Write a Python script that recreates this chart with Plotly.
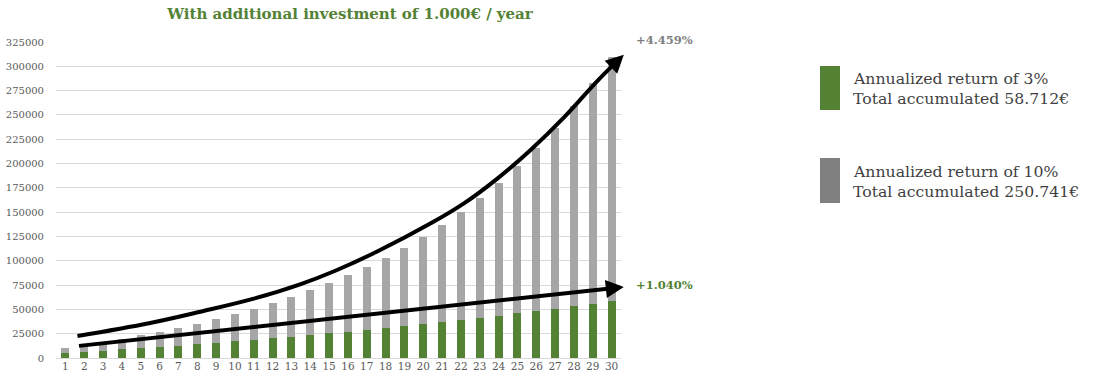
import plotly.graph_objects as go

years = list(range(1, 31))
return_3pct = [5150, 6335, 7554, 8811, 10105, 11439, 12812, 14226, 15683, 17183,
               18729, 20321, 21960, 23649, 25389, 27180, 29026, 30927, 32884, 34901,
               36978, 39117, 41321, 43590, 45928, 48336, 50816, 53370, 56002, 58712]
return_10pct = [5500, 7150, 8965, 10962, 13158, 15573, 18231, 21154, 24369, 27906,
                31797, 36076, 40784, 45962, 51659, 57925, 64817, 72399, 80739, 89912,
                100004, 111104, 123315, 136746, 151521, 167773, 185650, 205315, 226946, 250741]

# trend arrows (x in years, y in euros)
upper_arrow_x = [1.64, 5.5, 8.17, 11.0, 13.5, 15.3, 17.5, 20.4, 22.16, 23.9, 25.7, 27.5, 29.2, 30.2]
upper_arrow_y = [22600, 36000, 47600, 61000, 76000, 89500, 109000, 138500, 159000, 184000, 214000, 248000, 284000, 303500]
upper_tip = (30.65, 312000)
lower_start = (1.64, 12300)
lower_tip = (30.65, 73000)

GREEN = "#548235"
GRAY_BAR = "#A6A6A6"
GRAY_LEG = "#808080"
SERIF = "DejaVu Serif"

fig = go.Figure()
fig.add_trace(go.Bar(x=years, y=return_3pct, marker=dict(color=GREEN, line=dict(width=0)),
                     name="3%", hoverinfo="skip"))
fig.add_trace(go.Bar(x=years, y=return_10pct, marker=dict(color=GRAY_BAR, line=dict(width=0)),
                     name="10%", hoverinfo="skip"))
fig.add_trace(go.Scatter(x=upper_arrow_x, y=upper_arrow_y, mode="lines",
                         line=dict(color="black", width=4, shape="spline", smoothing=1.1),
                         cliponaxis=False, hoverinfo="skip"))

annotations = [
    dict(x=upper_tip[0], y=upper_tip[1], ax=upper_arrow_x[-1], ay=upper_arrow_y[-1],
         xref="x", yref="y", axref="x", ayref="y", text="", showarrow=True,
         arrowhead=2, arrowsize=0.9, arrowwidth=4, arrowcolor="black"),
    dict(x=lower_tip[0], y=lower_tip[1], ax=lower_start[0], ay=lower_start[1],
         xref="x", yref="y", axref="x", ayref="y", text="", showarrow=True,
         arrowhead=2, arrowsize=0.9, arrowwidth=4, arrowcolor="black"),
]

PLOT_TOP, PLOT_BOT, PLOT_L, PLOT_R = 42, 358, 56, 621
def px_to_paper_y(py):
    return (PLOT_BOT - py) / (PLOT_BOT - PLOT_TOP)
def px_to_paper_x(px):
    return (px - PLOT_L) / (PLOT_R - PLOT_L)

annotations += [
    dict(x=px_to_paper_x(634), y=px_to_paper_y(40), xref="paper", yref="paper",
         xanchor="left", yanchor="middle", text="<b>+4.459%</b>", showarrow=False,
         font=dict(family=SERIF, size=11.5, color=GRAY_LEG)),
    dict(x=px_to_paper_x(634), y=px_to_paper_y(285), xref="paper", yref="paper",
         xanchor="left", yanchor="middle", text="<b>+1.040%</b>", showarrow=False,
         font=dict(family=SERIF, size=11.5, color=GREEN)),
]

legend_lines = [
    ("Annualized return of 3%", 78),
    ("Total accumulated 58.712€", 99),
    ("Annualized return of 10%", 171),
    ("Total accumulated 250.741€", 191),
]
for txt, py in legend_lines:
    annotations.append(dict(x=px_to_paper_x(851), y=px_to_paper_y(py), xref="paper", yref="paper",
                            xanchor="left", yanchor="middle", text=txt, showarrow=False,
                            font=dict(family=SERIF, size=15.7, color="#3F3F3F")))

shapes = [
    dict(type="rect", xref="paper", yref="paper",
         x0=px_to_paper_x(820), x1=px_to_paper_x(840),
         y0=px_to_paper_y(110), y1=px_to_paper_y(66),
         fillcolor=GREEN, line=dict(width=0)),
    dict(type="rect", xref="paper", yref="paper",
         x0=px_to_paper_x(820), x1=px_to_paper_x(840),
         y0=px_to_paper_y(203), y1=px_to_paper_y(158),
         fillcolor=GRAY_LEG, line=dict(width=0)),
]

fig.update_layout(
    width=1096, height=386,
    margin=dict(l=PLOT_L, r=1096 - PLOT_R, t=PLOT_TOP, b=386 - PLOT_BOT, autoexpand=False),
    paper_bgcolor="white", plot_bgcolor="white",
    barmode="stack", bargap=0.58, showlegend=False,
    title=dict(text="<b>With additional investment of 1.000€ / year</b>",
               x=350 / 1096, xanchor="center", y=1 - 14 / 386, yanchor="middle",
               font=dict(family=SERIF, size=15, color=GREEN)),
    annotations=annotations, shapes=shapes,
)
fig.update_xaxes(range=[0.5, 30.5], tickmode="linear", dtick=1, showgrid=False,
                 zeroline=False, showline=False, ticks="", automargin=False,
                 tickfont=dict(family=SERIF, size=10.5, color="#595959"))
fig.update_yaxes(range=[0, 325000], dtick=25000, tickformat="d", showgrid=True,
                 gridcolor="#D9D9D9", gridwidth=1, zeroline=True, zerolinecolor="#D9D9D9",
                 zerolinewidth=1, showline=False, ticks="", ticklabelstandoff=11, automargin=False,
                 tickfont=dict(family=SERIF, size=10, color="#595959"))

fig.write_html("out.html", config={"displayModeBar": False},
               post_script="document.body.style.margin='0';document.body.style.padding='0';")
